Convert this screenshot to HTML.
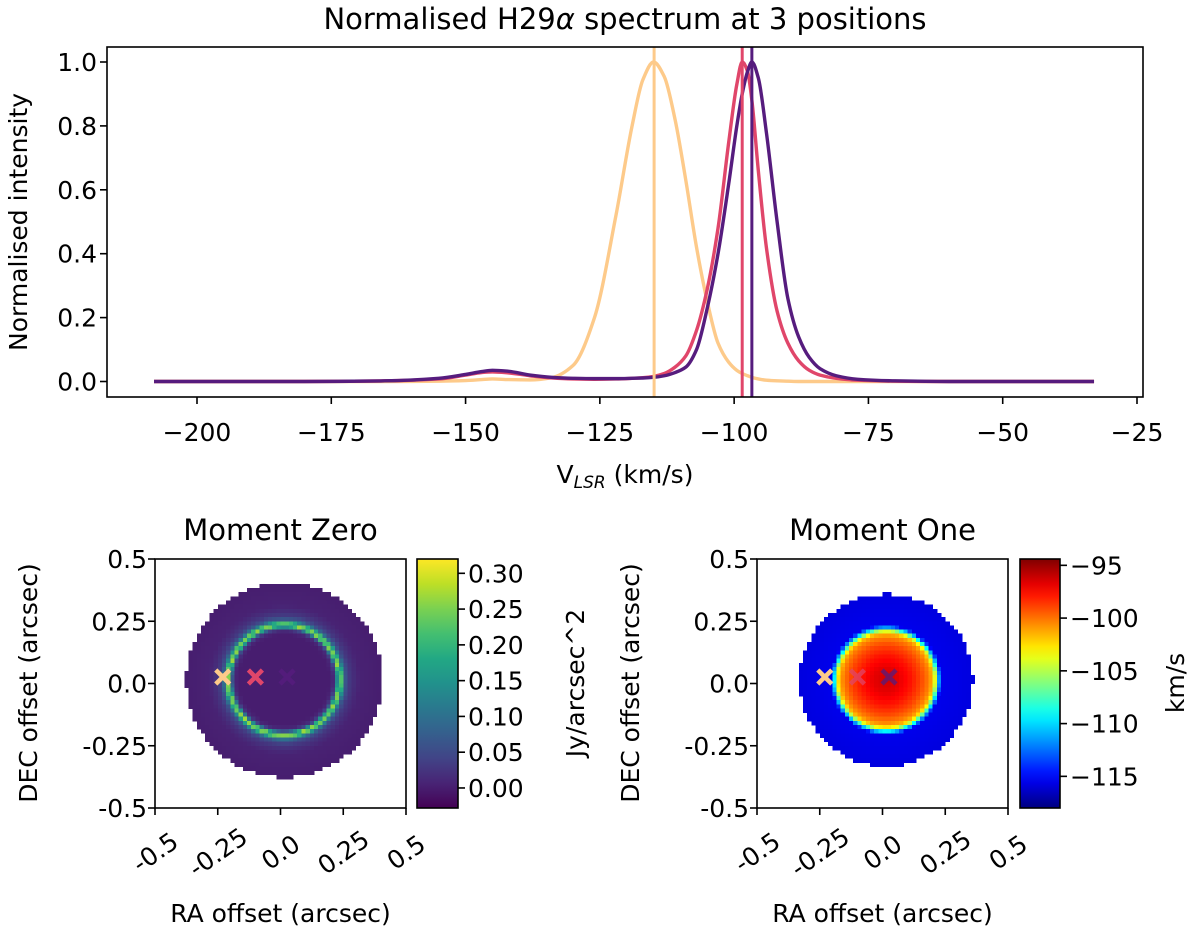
<!DOCTYPE html>
<html><head><meta charset="utf-8"><style>
html,body{margin:0;padding:0;background:#fff}
svg{display:block;font-family:"DejaVu Sans","Liberation Sans",sans-serif}
</style></head><body>
<svg id="fig" width="1200" height="929" viewBox="0 0 1200 929"></svg>
<script>
// ---------- spectrum data ----------
const velocities=[-208,-180,-165,-155,-150,-147,-145,-142,-138,-134,-130,-126,-122,-119,-117,-115,-113,-111,-109,-107,-105,-103,-101,-99.5,-98.5,-97.5,-96.7,-95.5,-94,-92,-90,-88,-86,-84,-81,-77,-70,-60,-50,-33];
const specYellow=[0,0,0,0.001,0.003,0.006,0.008,0.006,0.005,0.012,0.05,0.2,0.52,0.8,0.944,1.0,0.954,0.82,0.63,0.42,0.25,0.12,0.06,0.035,0.025,0.018,0.013,0.008,0.004,0.002,0.001,0,0,0,0,0,0,0,0,0];
const specRed=[0,0,0.002,0.008,0.02,0.028,0.03,0.027,0.018,0.011,0.008,0.007,0.008,0.01,0.012,0.016,0.025,0.045,0.08,0.16,0.29,0.48,0.75,0.93,1.0,0.97,0.88,0.66,0.42,0.22,0.12,0.065,0.035,0.02,0.01,0.004,0.001,0,0,0];
const specPurple=[0,0,0.002,0.01,0.022,0.031,0.035,0.032,0.02,0.013,0.01,0.009,0.009,0.01,0.011,0.013,0.018,0.028,0.045,0.1,0.23,0.4,0.62,0.8,0.9,0.97,1.0,0.95,0.78,0.5,0.26,0.14,0.075,0.04,0.018,0.007,0.002,0,0,0];
const peakVel=[-114.9,-98.5,-96.7];
const seriesColors=["#fdca8a","#e0466a","#561c7e"];
const xTicks=[-200,-175,-150,-125,-100,-75,-50,-25];
const yTicks=[0.0,0.2,0.4,0.6,0.8,1.0];
// ---------- map data ----------
const m0Radii=[0,0.18,0.195,0.205,0.213,0.22,0.228,0.236,0.245,0.26,0.28,0.3,0.4];
const m0Values=[0,0,0.01,0.05,0.16,0.27,0.22,0.12,0.06,0.03,0.015,0.005,0];
const m0Mask=0.39;
const m1Radii=[0,0.05,0.1,0.14,0.17,0.185,0.195,0.205,0.22,0.35];
const m1Values=[-96.3,-96.8,-97.8,-99,-100.3,-101.5,-104,-109,-115.5,-115.8];
const m1Mask=0.345;
const mapCenter=[0.014,0.014];
const markerRA=[-0.23,-0.10,0.026];
const markerDEC=[0.026,0.026,0.026];
const mapTicks=[-0.5,-0.25,0.0,0.25,0.5];
const mapTickLabels=["-0.5","-0.25","0.0","0.25","0.5"];
const cb0Ticks=[0.00,0.05,0.10,0.15,0.20,0.25,0.30];
const cb0Labels=["0.00","0.05","0.10","0.15","0.20","0.25","0.30"];
const cb1Ticks=[-115,-110,-105,-100,-95];

const FT=25, FTITLE=29;
const NS="http://www.w3.org/2000/svg";
const svg=document.getElementById('fig');
function el(tag,attrs,parent){const e=document.createElementNS(NS,tag);for(const k in attrs)e.setAttribute(k,attrs[k]);(parent||svg).appendChild(e);return e;}
function txt(s,x,y,size,anchor,parent,extra){const t=el('text',Object.assign({x:x,y:y,'font-size':size,'text-anchor':anchor||'middle',fill:'#000'},extra||{}),parent);t.textContent=s;return t;}

// ---------- top spectrum ----------
const A={l:107,r:1143,t:47,b:397};
const sx=v=>197+(v+200)*(1137-197)/175;
const sy=i=>381.5-i*(381.5-62)/1.0;
const gTop=el('g',{});


const t1=txt('',625,29,FTITLE,'middle',gTop);
t1.innerHTML='Normalised H29<tspan font-style="italic">α</tspan> spectrum at 3 positions';


function monoPath(xs,ys){
  const n=xs.length,d=[],m=[];
  for(let i=0;i<n-1;i++)d.push((ys[i+1]-ys[i])/(xs[i+1]-xs[i]));
  m[0]=d[0];m[n-1]=d[n-2];
  for(let i=1;i<n-1;i++){if(d[i-1]*d[i]<=0)m[i]=0;else{const w1=2*(xs[i+1]-xs[i])+(xs[i]-xs[i-1]),w2=(xs[i+1]-xs[i])+2*(xs[i]-xs[i-1]);m[i]=(w1+w2)/(w1/d[i-1]+w2/d[i]);}}
  let p='M'+xs[0].toFixed(2)+','+ys[0].toFixed(2);
  for(let i=0;i<n-1;i++){const h=xs[i+1]-xs[i];
    p+=' C'+(xs[i]+h/3).toFixed(2)+','+(ys[i]+m[i]*h/3).toFixed(2)+' '+(xs[i+1]-h/3).toFixed(2)+','+(ys[i+1]-m[i+1]*h/3).toFixed(2)+' '+xs[i+1].toFixed(2)+','+ys[i+1].toFixed(2);}
  return p;}
const allSpec=[specYellow,specRed,specPurple];
const specNames=['spectrum-line-yellow','spectrum-line-red','spectrum-line-purple'];
const clip=el('clipPath',{id:'topclip'},el('defs',{}));
el('rect',{x:A.l,y:A.t,width:A.r-A.l,height:A.b-A.t},clip);
allSpec.forEach((s,k)=>{
  const p=el('path',{d:monoPath(velocities.map(sx),s.map(sy)),fill:'none',stroke:seriesColors[k],'stroke-width':3.4,'stroke-linejoin':'round','clip-path':'url(#topclip)'},gTop);
  
  
});
peakVel.forEach((v,k)=>{
  const l=el('line',{x1:sx(v),x2:sx(v),y1:A.t,y2:A.b,stroke:seriesColors[k],'stroke-width':3},gTop);
  
  
});
const frame=el('rect',{x:A.l,y:A.t,width:A.r-A.l,height:A.b-A.t,fill:'none',stroke:'#000','stroke-width':1.6},gTop);


xTicks.forEach(v=>{el('line',{x1:sx(v),x2:sx(v),y1:A.b,y2:A.b+7,stroke:'#000','stroke-width':1.6},gTop);
  const t=txt('−'+Math.abs(v),sx(v),441,FT,'middle',gTop);
  
  });
yTicks.forEach(v=>{el('line',{x1:A.l-7,x2:A.l,y1:sy(v),y2:sy(v),stroke:'#000','stroke-width':1.6},gTop);
  const t=txt(v.toFixed(1),97,sy(v)+9,FT,'end',gTop);
  
  });
const xl=txt('',625,483,FT,'middle',gTop);
xl.innerHTML='V<tspan font-size="17" font-style="italic" dy="5">LSR</tspan><tspan dy="-5"> (km/s)</tspan>';


const yl=txt('Normalised intensity',0,0,FT,'middle',gTop,{transform:'translate(27,222) rotate(-90)'});



// ---------- colormaps ----------
const VIR=[[68,1,84],[72,36,117],[65,68,135],[53,95,141],[42,120,142],[33,145,140],[34,168,132],[68,191,112],[122,209,81],[189,223,38],[253,231,37]];
function viridis(f){f=Math.max(0,Math.min(1,f));const p=f*10,i=Math.min(9,Math.floor(p)),u=p-i;const a=VIR[i],b=VIR[i+1];return 'rgb('+a.map((c,j)=>Math.round(c+(b[j]-c)*u)).join(',')+')';}
function jet(f){f=Math.max(0,Math.min(1,f));const c=x=>Math.round(255*Math.max(0,Math.min(1,x)));
  return 'rgb('+c(1.5-Math.abs(4*f-3))+','+c(1.5-Math.abs(4*f-2))+','+c(1.5-Math.abs(4*f-1))+')';}
function interp(r,xs,ys){if(r>=xs[xs.length-1])return ys[ys.length-1];for(let i=0;i<xs.length-1;i++){if(r<=xs[i+1]){const u=(r-xs[i])/(xs[i+1]-xs[i]);return ys[i]+(ys[i+1]-ys[i])*u;}}return ys[0];}

function mapPanel(o){
  const g=el('g',{});
  
  
  const W=o.r-o.l,H=o.b-o.t;
  const mx=v=>o.l+(v+0.5)*W;
  const my=v=>o.b-(v+0.5)*H;
  const N=60,cw=W/N,ch=H/N;
  const cells=el('g',{'shape-rendering':'crispEdges'},g);
  
  
  for(let i=0;i<N;i++)for(let j=0;j<N;j++){
    const ra=-0.5+(i+0.5)/N,dec=0.5-(j+0.5)/N;
    const r=Math.hypot(ra-mapCenter[0],dec-mapCenter[1]);
    if(r>o.mask)continue;
    const val=interp(r,o.radii,o.values);
    el('rect',{x:(o.l+i*cw).toFixed(2),y:(o.t+j*ch).toFixed(2),width:(cw+0.4).toFixed(2),height:(ch+0.4).toFixed(2),fill:o.cmap((val-o.vmin)/(o.vmax-o.vmin))},cells);
  }
  const fr=el('rect',{x:o.l,y:o.t,width:W,height:H,fill:'none',stroke:'#000','stroke-width':1.6},g);
  
  
  markerRA.forEach((ra,k)=>{
    const cx=mx(ra),cy=my(markerDEC[k]),s=7;
    const m=el('path',{d:`M${cx-s},${cy-s}L${cx+s},${cy+s}M${cx-s},${cy+s}L${cx+s},${cy-s}`,stroke:seriesColors[k],'stroke-width':4.5,opacity:o.mopac[k]},g);
    
    
  });
  mapTicks.forEach((v,k)=>{
    el('line',{x1:o.l-7,x2:o.l,y1:my(v),y2:my(v),stroke:'#000','stroke-width':1.6},g);
    const t=txt(mapTickLabels[k],o.l-8,my(v)+9,FT,'end',g);
    
    
    el('line',{x1:mx(v),x2:mx(v),y1:o.b,y2:o.b+7,stroke:'#000','stroke-width':1.6},g);
    const t2=txt(mapTickLabels[k],0,0,FT,'middle',g,{transform:`translate(${mx(v)},852) rotate(-35)`,dy:'9'});
    
    
  });
  const ti=txt(o.title,(o.l+o.r)/2,540,FTITLE,'middle',g);
  
  
  const xa=txt('RA offset (arcsec)',(o.l+o.r)/2,922,FT,'middle',g);
  
  
  const ya=txt('DEC offset (arcsec)',0,0,FT,'middle',g,{transform:`translate(${o.l-118},683) rotate(-90)`});
  
  
  // colorbar
  const cb=el('g',{},g);
  
  
  const gid=o.name+'-grad';
  const lg=el('linearGradient',{id:gid,x1:0,y1:1,x2:0,y2:0},el('defs',{},cb));
  for(let s=0;s<=20;s++)el('stop',{offset:s/20,'stop-color':o.cmap(s/20)},lg);
  el('rect',{x:o.cbl,y:o.t,width:o.cbr-o.cbl,height:H,fill:`url(#${gid})`,stroke:'#000','stroke-width':1.6},cb);
  const cy=v=>o.b-(v-o.vmin)/(o.vmax-o.vmin)*H;
  o.cbTicks.forEach((v,k)=>{
    el('line',{x1:o.cbr,x2:o.cbr+7,y1:cy(v),y2:cy(v),stroke:'#000','stroke-width':1.6},cb);
    const t=txt(o.cbLabels[k],o.cbr+10,cy(v)+9,FT,'start',cb);
    
    
  });
  const cl=txt(o.cbTitle,0,0,FT,'middle',cb,{transform:`translate(${o.cbTitleX},683) rotate(-90)`});
  
  
}
mapPanel({name:'moment-zero',title:'Moment Zero',l:155,r:406,t:559,b:808,radii:m0Radii,values:m0Values,mask:m0Mask,vmin:-0.028,vmax:0.32,cmap:viridis,
  cbl:417,cbr:458,cbTicks:cb0Ticks,cbLabels:cb0Labels,cbTitle:'Jy/arcsec^2',cbTitleX:584,mopac:[1,1,0.85]});
mapPanel({name:'moment-one',title:'Moment One',l:757,r:1008,t:559,b:808,radii:m1Radii,values:m1Values,mask:m1Mask,vmin:-118.0,vmax:-94.4,cmap:jet,
  cbl:1020,cbr:1060,cbTicks:cb1Ticks,cbLabels:cb1Ticks.map(v=>'−'+Math.abs(v)),cbTitle:'km/s',cbTitleX:1184,mopac:[1,0.75,0.75]});
</script>
</body></html>
